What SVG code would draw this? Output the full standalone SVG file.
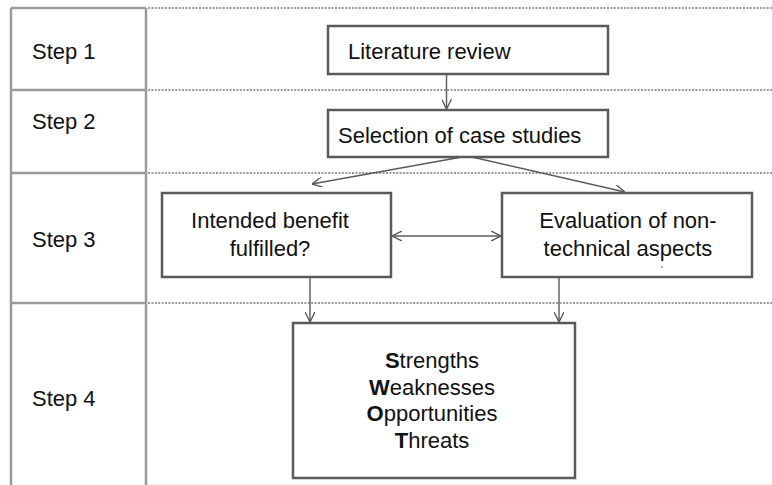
<svg xmlns="http://www.w3.org/2000/svg" width="772" height="485" viewBox="0 0 772 485">
<style>
.col{fill:none;stroke:#9a9a9a;stroke-width:2.5}
.dot{fill:none;stroke:#9a9a9a;stroke-width:2;stroke-dasharray:2 1.4}
.box{fill:#fff;stroke:#5a5a5a;stroke-width:2.5}
.con{fill:none;stroke:#5a5a5a;stroke-width:1.4}
text{font-family:"Liberation Sans",Arial,sans-serif;font-size:22px;fill:#111}
.c{text-anchor:middle}
</style>
<defs>
<marker id="ah" viewBox="0 0 10 10" refX="10" refY="5" markerWidth="10" markerHeight="10" markerUnits="userSpaceOnUse" orient="auto-start-reverse">
<path d="M0,0 L10,5 L0,10" fill="none" stroke="#5a5a5a" stroke-width="1.4"/>
</marker>
</defs>
<g id="grid">
<path class="dot" d="M148,8 H772 M148,90 H772 M148,173 H772 M148,303 H772"/>
<path d="M148,484 H772" fill="none" stroke="#e4e4e4" stroke-width="1" stroke-dasharray="2 1.4"/>
<path class="col" d="M11,8 V485 M146,8 V485 M11,8 H146 M11,90 H146 M11,173 H146 M11,303 H146"/>
<text x="32" y="59">Step 1</text>
<text x="32" y="129">Step 2</text>
<text x="32" y="247">Step 3</text>
<text x="32" y="406">Step 4</text>
</g>
<g id="connectors">
<line class="con" x1="446.5" y1="74" x2="446.5" y2="109" marker-end="url(#ah)"/>
<line class="con" x1="462" y1="157" x2="312" y2="184" marker-end="url(#ah)"/>
<line class="con" x1="472" y1="157" x2="625" y2="192" marker-end="url(#ah)"/>
<line class="con" x1="392" y1="236" x2="501" y2="236" marker-start="url(#ah)" marker-end="url(#ah)"/>
<line class="con" x1="310" y1="277" x2="310" y2="322" marker-end="url(#ah)"/>
<line class="con" x1="559" y1="277" x2="559" y2="322" marker-end="url(#ah)"/>
</g>
<g id="lit">
<rect class="box" x="328" y="26" width="280" height="48"/>
<text x="348" y="59">Literature review</text>
</g>
<g id="sel">
<rect class="box" x="328" y="110" width="280" height="47"/>
<text x="338" y="143">Selection of case studies</text>
</g>
<g id="benefit">
<rect class="box" x="162" y="193" width="229" height="84"/>
<text class="c" x="270" y="228">Intended benefit</text>
<text class="c" x="270" y="256">fulfilled?</text>
</g>
<g id="eval">
<rect class="box" x="502" y="193" width="250" height="84"/>
<text class="c" x="628" y="228">Evaluation of non-</text>
<text class="c" x="628" y="256">technical aspects</text>
<circle cx="662" cy="267" r="0.8" fill="#444"/>
</g>
<g id="swot">
<rect class="box" x="293" y="323" width="282" height="155"/>
<text class="c" x="432" y="368"><tspan font-weight="bold">S</tspan>trengths</text>
<text class="c" x="432" y="395"><tspan font-weight="bold">W</tspan>eaknesses</text>
<text class="c" x="432" y="421"><tspan font-weight="bold">O</tspan>pportunities</text>
<text class="c" x="432" y="448"><tspan font-weight="bold">T</tspan>hreats</text>
</g>
</svg>
